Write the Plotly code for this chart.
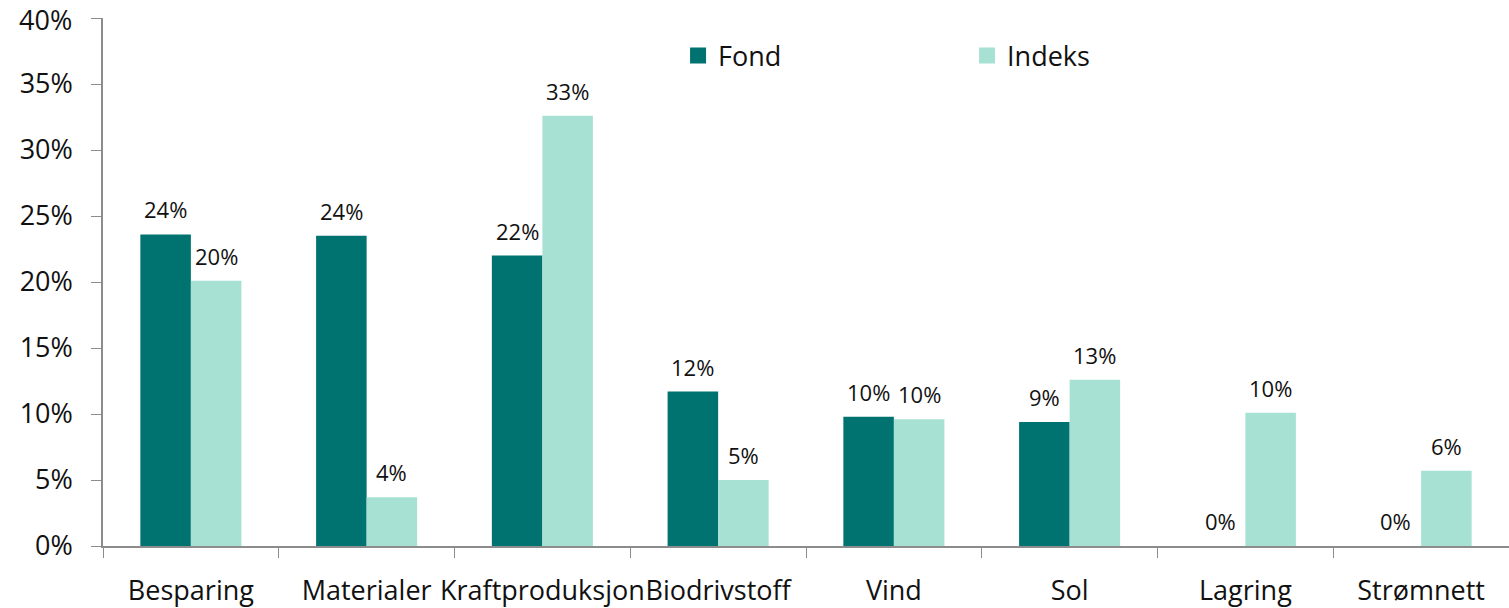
import plotly.graph_objects as go

categories = ["Besparing", "Materialer", "Kraftproduksjon", "Biodrivstoff", "Vind", "Sol", "Lagring", "Strømnett"]
fond = [23.6, 23.5, 22.0, 11.7, 9.8, 9.4, 0.0, 0.0]
indeks = [20.1, 3.7, 32.6, 5.0, 9.6, 12.6, 10.1, 5.7]
y_ticks = [0, 5, 10, 15, 20, 25, 30, 35, 40]

FOND_C = "#007370"
INDEKS_C = "#A6E1D3"
FONT = "Open Sans"
TXT = "#111111"

fig = go.Figure()
fig.add_trace(go.Bar(name="Fond", x=categories, y=fond, marker_color=FOND_C,
                     marker_line_width=0, showlegend=False))
fig.add_trace(go.Bar(name="Indeks", x=categories, y=indeks, marker_color=INDEKS_C,
                     marker_line_width=0, showlegend=False))
# legend proxies (larger square symbols)
for name, col in (("Fond", FOND_C), ("Indeks", INDEKS_C)):
    fig.add_trace(go.Scatter(name=name, x=[None], y=[None], mode="markers",
                             marker=dict(symbol="square", size=16, color=col),
                             showlegend=True, hoverinfo="skip"))

plot_w = 1406
bargap = 0.425
bar_px = plot_w / len(categories) * (1 - bargap) / 2

annotations = []
for series, sign in ((fond, -1), (indeks, 1)):
    for c, v in zip(categories, series):
        annotations.append(dict(
            x=c, y=v, text=f"{v:.0f}%", showarrow=False,
            xshift=sign * bar_px / 2, yanchor="bottom", yshift=8,
            font=dict(family=FONT, size=22, color=TXT),
        ))

# top tick label placed as an annotation so it stays inside the page
top_tick = y_ticks[-1]
annotations.append(dict(
    x=0, xref="paper", y=1, yref="paper", text=f"{top_tick}%", showarrow=False,
    xanchor="right", yanchor="top", xshift=-30, yshift=18, borderpad=0,
    font=dict(family=FONT, size=27, color=TXT),
))

fig.update_layout(
    width=1509, height=608,
    margin=dict(l=103, r=0, t=18, b=62),
    paper_bgcolor="white", plot_bgcolor="white",
    barmode="group", bargap=bargap, bargroupgap=0,
    font=dict(family=FONT, size=27, color=TXT),
    showlegend=True,
    legend=dict(
        orientation="h", x=0.409, xanchor="left", y=0.928, yanchor="middle",
        entrywidth=244, entrywidthmode="pixels",
        font=dict(family=FONT, size=27, color=TXT),
        bgcolor="rgba(0,0,0,0)", itemclick=False,
    ),
    annotations=annotations,
    xaxis=dict(
        showline=True, linecolor="#8c8c8c", linewidth=1.5,
        ticks="outside", tickson="boundaries", ticklen=10, tickcolor="#8c8c8c",
        tickangle=0, ticklabelstandoff=20, automargin=False,
        showgrid=False, zeroline=False,
        tickfont=dict(family=FONT, size=27, color=TXT),
    ),
    yaxis=dict(
        range=[0, 40], tickvals=y_ticks,
        ticktext=[f"{t}%" if t != top_tick else "" for t in y_ticks],
        showline=True, linecolor="#8c8c8c", linewidth=1.5,
        ticks="outside", ticklen=10, tickcolor="#8c8c8c",
        ticklabelstandoff=13, automargin=False, ticklabeloverflow="allow",
        showgrid=False, zeroline=False,
        tickfont=dict(family=FONT, size=27, color=TXT),
    ),
)

fig.write_html(
    "out.html",
    config={"displayModeBar": False},
    post_script="document.body.style.margin='0';document.body.style.overflow='hidden';",
)
